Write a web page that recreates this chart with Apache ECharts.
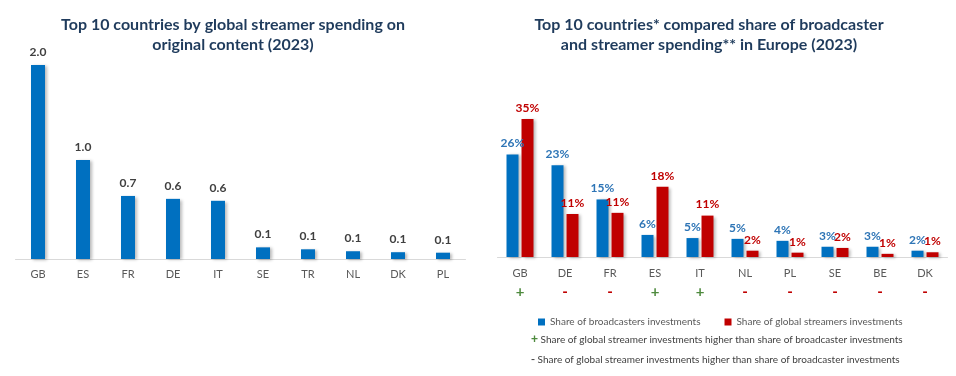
<!DOCTYPE html>
<html>
<head>
<meta charset="utf-8">
<script src="https://cdn.jsdelivr.net/npm/echarts@6/dist/echarts.min.js"></script>
<style>
  html, body { margin: 0; padding: 0; background: #fff; }
  #main { width: 956px; height: 376px; }
</style>
</head>
<body>
<div id="main"></div>
<script>
// 左图：全球流媒体原创内容支出
var spendCountries = ['GB', 'ES', 'FR', 'DE', 'IT', 'SE', 'TR', 'NL', 'DK', 'PL'];
var spendValues = [2.0, 1.02, 0.65, 0.62, 0.6, 0.12, 0.1, 0.08, 0.07, 0.065];
var spendLabels = ['2.0', '1.0', '0.7', '0.6', '0.6', '0.1', '0.1', '0.1', '0.1', '0.1'];

// 右图：广播公司与流媒体支出份额
var shareCountries = ['GB', 'DE', 'FR', 'ES', 'IT', 'NL', 'PL', 'SE', 'BE', 'DK'];
var broadcasterShare = [26, 23.3, 14.6, 5.6, 4.8, 4.6, 4.1, 2.6, 2.6, 1.6];
var streamerShare = [35, 10.9, 11.2, 17.8, 10.5, 1.6, 1.1, 2.3, 0.8, 1.2];
var shareSigns = ['+', '-', '-', '+', '+', '-', '-', '-', '-', '-'];

var blue = '#0070c0';
var red = '#c00000';
var titleColor = '#1f3b5c';
var font = 'Lato, "Open Sans", sans-serif';

var myChart = echarts.init(document.getElementById('main'));

var barShadow = {
    shadowColor: 'rgba(0,0,0,0.28)',
    shadowBlur: 3,
    shadowOffsetX: 2,
    shadowOffsetY: 1
};

var option = {
    animation: false,
    textStyle: { fontFamily: font },
    title: [{
        text: 'Top 10 countries by global streamer spending on\noriginal content (2023)',
        left: 228,
        textAlign: 'center',
        top: 10,
        textStyle: { fontSize: 16, fontWeight: 'bold', color: titleColor, lineHeight: 20, fontFamily: font }
    }, {
        text: 'Top 10 countries* compared share of broadcaster\nand streamer spending** in Europe (2023)',
        left: 704,
        textAlign: 'center',
        top: 10,
        textStyle: { fontSize: 16, fontWeight: 'bold', color: titleColor, lineHeight: 20, fontFamily: font }
    }],
    legend: {
        left: 533,
        top: 312,
        itemWidth: 7,
        itemHeight: 7,
        itemGap: 24,
        icon: 'rect',
        textStyle: { fontSize: 10, color: '#595959', fontFamily: font },
        data: ['Share of broadcasters investments', 'Share of global streamers investments']
    },
    grid: [
        { left: 15.5, right: 490.5, top: 65, bottom: 117 },
        { left: 497.5, right: 8.5, top: 119, bottom: 119 }
    ],
    xAxis: [{
        type: 'category',
        gridIndex: 0,
        data: spendCountries,
        axisLine: { lineStyle: { color: '#d9d9d9' } },
        axisTick: { show: false },
        axisLabel: { color: '#595959', fontSize: 11, margin: 10 }
    }, {
        type: 'category',
        gridIndex: 1,
        data: shareCountries,
        axisLine: { lineStyle: { color: '#d9d9d9' } },
        axisTick: { show: false },
        axisLabel: {
            color: '#595959',
            fontSize: 11,
            margin: 7,
            lineHeight: 19,
            formatter: function (v, i) {
                return v + '\n' + (shareSigns[i] === '+' ? '{p|+}' : '{m|-}');
            },
            rich: {
                p: { color: '#4e8a3e', fontSize: 15, fontWeight: 'bold', lineHeight: 19 },
                m: { color: red, fontSize: 15, fontWeight: 'bold', lineHeight: 19 }
            }
        }
    }],
    yAxis: [{
        type: 'value', gridIndex: 0, min: 0, max: 2.0, show: false
    }, {
        type: 'value', gridIndex: 1, min: 0, max: 35, show: false
    }],
    series: [{
        name: 'spend',
        type: 'bar',
        xAxisIndex: 0,
        yAxisIndex: 0,
        barWidth: 14,
        data: spendValues,
        itemStyle: Object.assign({ color: blue }, barShadow),
        label: {
            show: true,
            position: 'top',
            distance: 7,
            color: '#404040',
            fontSize: 12,
            fontWeight: 'bold',
            formatter: function (p) { return spendLabels[p.dataIndex]; }
        }
    }, {
        name: 'Share of broadcasters investments',
        type: 'bar',
        xAxisIndex: 1,
        yAxisIndex: 1,
        barWidth: 12,
        barGap: '25%',
        data: broadcasterShare,
        itemStyle: Object.assign({ color: blue }, barShadow),
        label: {
            show: true,
            position: 'top',
            distance: 5,
            color: '#2e75b6',
            fontSize: 12,
            fontWeight: 'bold',
            formatter: function (p) { return Math.round(p.value) + '%'; }
        }
    }, {
        name: 'Share of global streamers investments',
        type: 'bar',
        xAxisIndex: 1,
        yAxisIndex: 1,
        barWidth: 12,
        data: streamerShare,
        itemStyle: Object.assign({ color: red }, barShadow),
        label: {
            show: true,
            position: 'top',
            distance: 5,
            color: red,
            fontSize: 12,
            fontWeight: 'bold',
            formatter: function (p) { return Math.round(p.value) + '%'; }
        }
    }],
    graphic: [{
        type: 'text',
        left: 531,
        top: 334,
        style: {
            text: '{p|+} Share of global streamer investments higher than share of broadcaster investments',
            fill: '#404040',
            font: '10px ' + font,
            rich: { p: { fill: '#4e8a3e', fontSize: 12, fontWeight: 'bold' } }
        }
    }, {
        type: 'text',
        left: 531,
        top: 354,
        style: {
            text: '{m|-} Share of global streamer investments higher than share of broadcaster investments',
            fill: '#404040',
            font: '10px ' + font,
            rich: { m: { fill: '#404040', fontSize: 12 } }
        }
    }]
};

myChart.setOption(option);
</script>
</body>
</html>
